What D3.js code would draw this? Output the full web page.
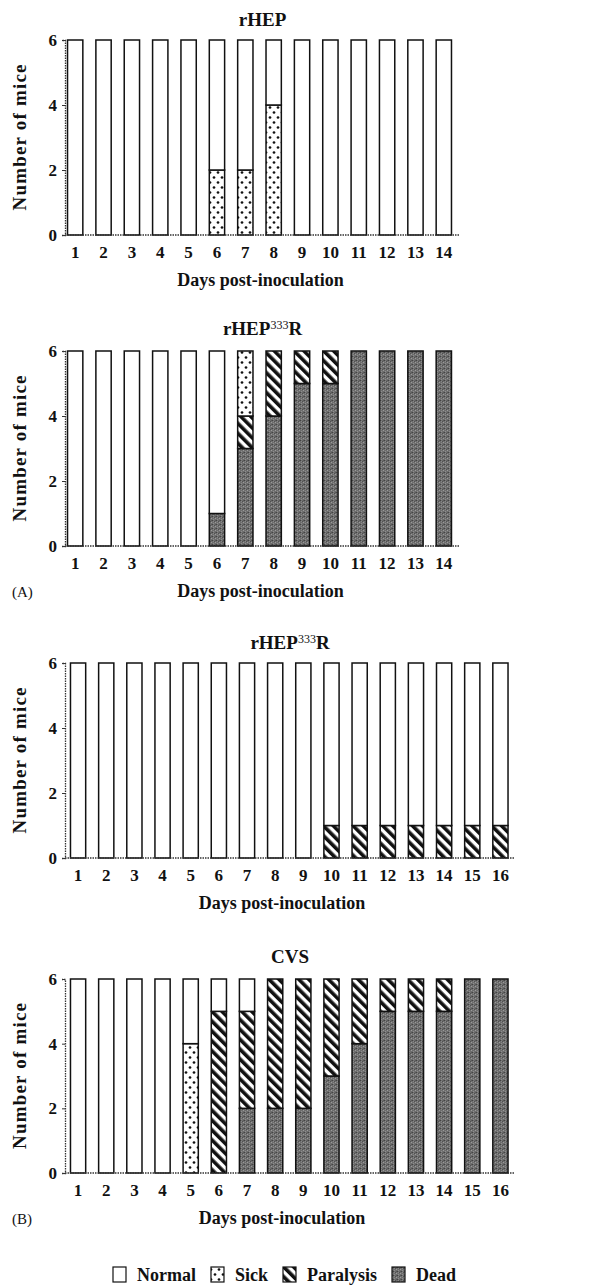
<!DOCTYPE html>
<html>
<head>
<meta charset="utf-8">
<script src="https://cdn.jsdelivr.net/npm/d3@7"></script>
<style>
  body { margin: 0; background: #fff; }
  text { font-family: "Liberation Serif", "DejaVu Serif", serif; fill: #111; }
</style>
</head>
<body>
<div id="vis"></div>
<script>
// ---- data ----
const DAYS_14 = [1, 2, 3, 4, 5, 6, 7, 8, 9, 10, 11, 12, 13, 14];
const DAYS_16 = [1, 2, 3, 4, 5, 6, 7, 8, 9, 10, 11, 12, 13, 14, 15, 16];

// panel 1: rHEP
const rhepDead      = [0, 0, 0, 0, 0, 0, 0, 0, 0, 0, 0, 0, 0, 0];
const rhepParalysis = [0, 0, 0, 0, 0, 0, 0, 0, 0, 0, 0, 0, 0, 0];
const rhepSick      = [0, 0, 0, 0, 0, 2, 2, 4, 0, 0, 0, 0, 0, 0];
const rhepNormal    = [6, 6, 6, 6, 6, 4, 4, 2, 6, 6, 6, 6, 6, 6];

// panel 2: rHEP333R (A)
const mutADead      = [0, 0, 0, 0, 0, 1, 3, 4, 5, 5, 6, 6, 6, 6];
const mutAParalysis = [0, 0, 0, 0, 0, 0, 1, 2, 1, 1, 0, 0, 0, 0];
const mutASick      = [0, 0, 0, 0, 0, 0, 2, 0, 0, 0, 0, 0, 0, 0];
const mutANormal    = [6, 6, 6, 6, 6, 5, 0, 0, 0, 0, 0, 0, 0, 0];

// panel 3: rHEP333R (B)
const mutBDead      = [0, 0, 0, 0, 0, 0, 0, 0, 0, 0, 0, 0, 0, 0, 0, 0];
const mutBParalysis = [0, 0, 0, 0, 0, 0, 0, 0, 0, 1, 1, 1, 1, 1, 1, 1];
const mutBSick      = [0, 0, 0, 0, 0, 0, 0, 0, 0, 0, 0, 0, 0, 0, 0, 0];
const mutBNormal    = [6, 6, 6, 6, 6, 6, 6, 6, 6, 5, 5, 5, 5, 5, 5, 5];

// panel 4: CVS
const cvsDead      = [0, 0, 0, 0, 0, 0, 2, 2, 2, 3, 4, 5, 5, 5, 6, 6];
const cvsParalysis = [0, 0, 0, 0, 0, 5, 3, 4, 4, 3, 2, 1, 1, 1, 0, 0];
const cvsSick      = [0, 0, 0, 0, 4, 0, 0, 0, 0, 0, 0, 0, 0, 0, 0, 0];
const cvsNormal    = [6, 6, 6, 6, 2, 1, 1, 0, 0, 0, 0, 0, 0, 0, 0, 0];

const Y_TICKS = [0, 2, 4, 6];
const KEYS = ["dead", "paralysis", "sick", "normal"];
const LEGEND_LABELS = ["Normal", "Sick", "Paralysis", "Dead"];
const LEGEND_KEYS = ["normal", "sick", "paralysis", "dead"];

const WIDTH = 593;
const HEIGHT = 1286;
const AXIS_X = 65;

const panels = [
  { title: "rHEP", sup: null, days: DAYS_14, dead: rhepDead, paralysis: rhepParalysis, sick: rhepSick, normal: rhepNormal,
    top: 40, bottom: 235, range: [61, 458], axisEnd: 460, titleY: 26, tag: null },
  { title: "rHEP", sup: "333", days: DAYS_14, dead: mutADead, paralysis: mutAParalysis, sick: mutASick, normal: mutANormal,
    top: 351, bottom: 546, range: [61, 458], axisEnd: 460, titleY: 335, tag: "(A)" },
  { title: "rHEP", sup: "333", days: DAYS_16, dead: mutBDead, paralysis: mutBParalysis, sick: mutBSick, normal: mutBNormal,
    top: 663, bottom: 858, range: [64, 514.5], axisEnd: 515, titleY: 649, tag: null },
  { title: "CVS", sup: null, days: DAYS_16, dead: cvsDead, paralysis: cvsParalysis, sick: cvsSick, normal: cvsNormal,
    top: 979, bottom: 1173, range: [64, 514.5], axisEnd: 515, titleY: 963, tag: "(B)" }
];

const svg = d3.select("#vis")
  .append("svg")
    .attr("width", WIDTH)
    .attr("height", HEIGHT);

svg.append("rect").attr("width", WIDTH).attr("height", HEIGHT).attr("fill", "#fff");

// fill patterns
const defs = svg.append("defs");

const sick = defs.append("pattern")
  .attr("id", "pat-sick")
  .attr("patternUnits", "userSpaceOnUse")
  .attr("width", 8).attr("height", 10);
sick.append("rect").attr("width", 8).attr("height", 10).attr("fill", "#fff");
sick.append("circle").attr("cx", 2).attr("cy", 2.5).attr("r", 1.35).attr("fill", "#111");
sick.append("circle").attr("cx", 6).attr("cy", 7.5).attr("r", 1.35).attr("fill", "#111");

const para = defs.append("pattern")
  .attr("id", "pat-para")
  .attr("patternUnits", "userSpaceOnUse")
  .attr("width", 7).attr("height", 7)
  .attr("patternTransform", "rotate(-45)");
para.append("rect").attr("width", 7).attr("height", 7).attr("fill", "#fff");
para.append("rect").attr("width", 3.6).attr("height", 7).attr("fill", "#111");

const dead = defs.append("pattern")
  .attr("id", "pat-dead")
  .attr("patternUnits", "userSpaceOnUse")
  .attr("width", 4).attr("height", 4);
dead.append("rect").attr("width", 4).attr("height", 4).attr("fill", "#6e6e6e");
[[0, 0, "#444"], [2, 1, "#505050"], [1, 3, "#8e8e8e"], [3, 2, "#9a9a9a"], [3, 0, "#5a5a5a"], [1, 1, "#888"]]
  .forEach(p => dead.append("rect").attr("x", p[0]).attr("y", p[1]).attr("width", 1).attr("height", 1).attr("fill", p[2]));

const FILLS = {
  normal: "#fff",
  sick: "url(#pat-sick)",
  paralysis: "url(#pat-para)",
  dead: "url(#pat-dead)"
};

const stack = d3.stack().keys(KEYS);

panels.forEach(p => {
  const rows = p.days.map((d, i) => ({
    day: d,
    dead: p.dead[i],
    paralysis: p.paralysis[i],
    sick: p.sick[i],
    normal: p.normal[i]
  }));

  const x = d3.scaleBand(p.days, p.range).paddingInner(0.46).paddingOuter(0.23);
  const y = d3.scaleLinear([0, 6], [p.bottom, p.top]);

  const g = svg.append("g");

  // bars
  const layers = g.selectAll("g.layer")
    .data(stack(rows))
    .enter()
    .append("g")
      .attr("class", "layer")
      .attr("fill", s => FILLS[s.key]);

  layers.selectAll("rect")
    .data(s => s.filter(d => d[1] - d[0] > 0))
    .enter()
    .append("rect")
      .attr("x", d => x(d.data.day))
      .attr("y", d => y(d[1]))
      .attr("width", x.bandwidth())
      .attr("height", d => y(d[0]) - y(d[1]))
      .attr("stroke", "#111")
      .attr("stroke-width", 1.5);

  // y axis
  const yAxis = g.append("g")
    .attr("transform", `translate(${AXIS_X},0)`)
    .call(d3.axisLeft(y).tickValues(Y_TICKS).tickFormat(d3.format("d")).tickSize(3).tickPadding(5));
  yAxis.select(".domain").attr("stroke", "#333").attr("stroke-width", 1.3).attr("stroke-dasharray", "1.5,1");
  yAxis.selectAll(".tick line").attr("stroke", "#333");
  yAxis.selectAll("text").attr("font-size", 17).attr("font-weight", "bold").attr("fill", "#111")
    .style("font-family", "'Liberation Serif', serif");

  // x axis baseline
  g.append("line")
    .attr("x1", AXIS_X).attr("x2", p.axisEnd)
    .attr("y1", p.bottom).attr("y2", p.bottom)
    .attr("stroke", "#333").attr("stroke-width", 1.3).attr("stroke-dasharray", "1.5,1");

  const xAxis = g.append("g")
    .attr("transform", `translate(0,${p.bottom})`)
    .call(d3.axisBottom(x).tickSize(0).tickPadding(11));
  xAxis.select(".domain").remove();
  xAxis.selectAll("text").attr("font-size", 17).attr("font-weight", "bold").attr("fill", "#111")
    .style("font-family", "'Liberation Serif', serif");

  const cx = (AXIS_X + p.axisEnd) / 2;

  // title
  const t = g.append("text")
    .attr("x", cx)
    .attr("y", p.titleY)
    .attr("text-anchor", "middle")
    .attr("font-size", 19)
    .attr("font-weight", "bold")
    .text(p.title);
  if (p.sup) {
    t.append("tspan").attr("font-size", 12).attr("font-weight", "normal").attr("dy", -6).text(p.sup);
    t.append("tspan").attr("dy", 6).text("R");
  }

  // axis titles
  g.append("text")
    .attr("x", cx - (p.days.length > 14 ? 8 : 2))
    .attr("y", p.bottom + 51)
    .attr("text-anchor", "middle")
    .attr("font-size", 18)
    .attr("font-weight", "bold")
    .text("Days post-inoculation");

  g.append("text")
    .attr("transform", `translate(26,${(p.top + p.bottom) / 2}) rotate(-90)`)
    .attr("text-anchor", "middle")
    .attr("font-size", 19)
    .attr("font-weight", "bold")
    .attr("textLength", 146)
    .attr("lengthAdjust", "spacing")
    .text("Number of mice");

  if (p.tag) {
    g.append("text")
      .attr("x", 12)
      .attr("y", p.bottom + 51)
      .attr("font-size", 15)
      .text(p.tag);
  }
});

// legend
const legend = svg.append("g").attr("transform", "translate(113,1267)");
let lx = 0;
LEGEND_KEYS.forEach((k, i) => {
  legend.append("rect")
    .attr("x", lx).attr("y", 0)
    .attr("width", 13).attr("height", 15)
    .attr("fill", FILLS[k])
    .attr("stroke", "#111")
    .attr("stroke-width", 1.2);
  const txt = legend.append("text")
    .attr("x", lx + 24)
    .attr("y", 14)
    .attr("font-size", 18)
    .attr("font-weight", "bold")
    .text(LEGEND_LABELS[i]);
  lx += 24 + txt.node().getComputedTextLength() + 15;
});
</script>
</body>
</html>
